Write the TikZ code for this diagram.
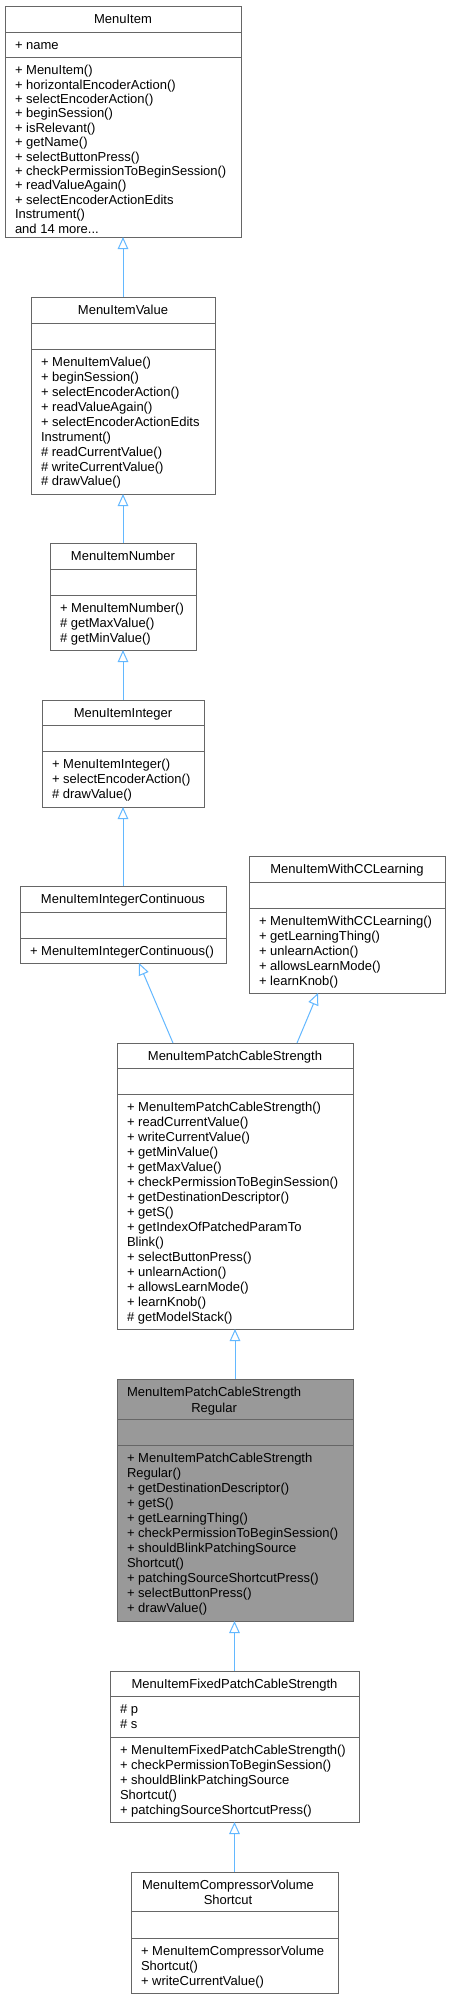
\documentclass[tikz,border=0pt]{standalone}
\usepackage{fontspec}
\setmainfont{Liberation Sans}
\usetikzlibrary{arrows.meta}
\definecolor{boxgray}{HTML}{666666}
\definecolor{hlfill}{HTML}{999999}
\definecolor{edgeblue}{HTML}{63B8FF}
\tikzset{
  classbox/.style={draw=boxgray, line width=1pt, fill=white, inner sep=0pt, outer sep=0pt, anchor=north west},
  hlbox/.style={fill=hlfill},
  boxline/.style={draw=boxgray, line width=1pt},
  txt/.style={inner sep=0pt, outer sep=0pt, font=\fontsize{13}{15}\selectfont, text=black},
  inh/.style={draw=edgeblue, line width=1pt, -{Triangle[open, length=12pt, width=10.5pt]}},
}
\newcommand\morelbl{and 14 more...}
% name, left, right, top, sep1, sep2, bottom, extra style
\newcommand\umlbox[8]{%
  \node[classbox,#8,minimum width={#3-#2},minimum height={#7-#4}] (#1) at (#2,#4) {};
  \draw[boxline] (#2,#5) -- (#3,#5);
  \draw[boxline] (#2,#6) -- (#3,#6);
}
% prefix, x, first baseline, spacing, list of lines
\newcommand\seclines[5]{%
  \foreach \t [count=\i from 0] in {#5} {
    \node[txt, anchor=base west, name=#1-\i] at (#2,{#3+\i*#4}) {\t};
  }%
}
% name, x, baseline, text
\newcommand\titleline[4]{\node[txt, anchor=base, name=#1] at (#2,#3) {#4};}
\begin{document}
\begin{tikzpicture}[x=1pt,y=-1pt]
\fill[white] (0,0) rectangle (450,2000);
\useasboundingbox (0,0) rectangle (450,2000);

% MenuItem
\umlbox{mi}{5}{241}{6}{32}{57}{237}{}
\titleline{mi-t}{123}{23.7}{MenuItem}
\seclines{mi-a}{15}{49.7}{15}{+ name}
\seclines{mi-m}{15}{74.7}{14.4}{+ MenuItem(),+ horizontalEncoderAction(),+ selectEncoderAction(),+ beginSession(),+ isRelevant(),+ getName(),+ selectButtonPress(),+ checkPermissionToBeginSession(),+ readValueAgain(),+ selectEncoderActionEdits,Instrument(),\morelbl}

% MenuItemValue
\umlbox{miv}{31}{215}{297}{323}{349}{494}{}
\titleline{miv-t}{123}{314.7}{MenuItemValue}
\seclines{miv-m}{41}{366.7}{14.9}{+ MenuItemValue(),+ beginSession(),+ selectEncoderAction(),+ readValueAgain(),+ selectEncoderActionEdits,Instrument(),\# readCurrentValue(),\# writeCurrentValue(),\# drawValue()}

% MenuItemNumber
\umlbox{min}{50}{196}{543}{569}{595}{650}{}
\titleline{min-t}{123}{560.7}{MenuItemNumber}
\seclines{min-m}{60}{612.7}{14.9}{+ MenuItemNumber(),\# getMaxValue(),\# getMinValue()}

% MenuItemInteger
\umlbox{mii}{42}{204}{700}{725}{751}{807}{}
\titleline{mii-t}{123}{717.7}{MenuItemInteger}
\seclines{mii-m}{52}{768.7}{14.9}{+ MenuItemInteger(),+ selectEncoderAction(),\# drawValue()}

% MenuItemIntegerContinuous
\umlbox{mic}{20}{226}{886}{912}{938}{963}{}
\titleline{mic-t}{123}{903.7}{MenuItemIntegerContinuous}
\seclines{mic-m}{30}{955.7}{14.9}{+ MenuItemIntegerContinuous()}

% MenuItemWithCCLearning
\umlbox{mcc}{249}{445}{856}{882}{908}{993}{}
\titleline{mcc-t}{347}{873.7}{MenuItemWithCCLearning}
\seclines{mcc-m}{259}{925.7}{14.9}{+ MenuItemWithCCLearning(),+ getLearningThing(),+ unlearnAction(),+ allowsLearnMode(),+ learnKnob()}

% MenuItemPatchCableStrength
\umlbox{pcs}{117}{353}{1043}{1068}{1094}{1329}{}
\titleline{pcs-t}{235}{1060.7}{MenuItemPatchCableStrength}
\seclines{pcs-m}{127}{1111.7}{15}{+ MenuItemPatchCableStrength(),+ readCurrentValue(),+ writeCurrentValue(),+ getMinValue(),+ getMaxValue(),+ checkPermissionToBeginSession(),+ getDestinationDescriptor(),+ getS(),+ getIndexOfPatchedParamTo,Blink(),+ selectButtonPress(),+ unlearnAction(),+ allowsLearnMode(),+ learnKnob(),\# getModelStack()}

% MenuItemPatchCableStrengthRegular
\umlbox{reg}{117}{353}{1379}{1419}{1445}{1621}{hlbox}
\node[txt, anchor=base west] (reg-t0) at (127,1396.7) {MenuItemPatchCableStrength};
\node[txt, anchor=base] (reg-t1) at (reg-t0.base |- 0,1412) {Regular};
\seclines{reg-m}{127}{1462.7}{15}{+ MenuItemPatchCableStrength,Regular(),+ getDestinationDescriptor(),+ getS(),+ getLearningThing(),+ checkPermissionToBeginSession(),+ shouldBlinkPatchingSource,Shortcut(),+ patchingSourceShortcutPress(),+ selectButtonPress(),+ drawValue()}

% MenuItemFixedPatchCableStrength
\umlbox{fix}{110}{359}{1671}{1696}{1737}{1822}{}
\titleline{fix-t}{234.5}{1688.7}{MenuItemFixedPatchCableStrength}
\seclines{fix-a}{120}{1713.7}{15}{\# p,\# s}
\seclines{fix-m}{120}{1754.7}{15}{+ MenuItemFixedPatchCableStrength(),+ checkPermissionToBeginSession(),+ shouldBlinkPatchingSource,Shortcut(),+ patchingSourceShortcutPress()}

% MenuItemCompressorVolumeShortcut
\umlbox{cmp}{131}{338}{1872}{1911}{1938}{1993}{}
\node[txt, anchor=base west] (cmp-t0) at (142,1889.7) {MenuItemCompressorVolume};
\node[txt, anchor=base] (cmp-t1) at (cmp-t0.base |- 0,1904.7) {Shortcut};
\seclines{cmp-m}{141}{1955.7}{15}{+ MenuItemCompressorVolume,Shortcut(),+ writeCurrentValue()}

% inheritance edges
\draw[inh] (miv.north) -- (mi.south);
\draw[inh] (min.north) -- (miv.south);
\draw[inh] (mii.north) -- (min.south);
\draw[inh] (mic.north) -- (mii.south);
\draw[inh] ([xshift=-62pt]pcs.north) -- ([xshift=16pt]mic.south);
\draw[inh] ([xshift=62pt]pcs.north) -- ([xshift=-29pt]mcc.south);
\draw[inh] (reg.north) -- (pcs.south);
\draw[inh] (fix.north) -- (fix.north |- reg.south);
\draw[inh] (cmp.north) -- (fix.south);
\end{tikzpicture}
\end{document}
